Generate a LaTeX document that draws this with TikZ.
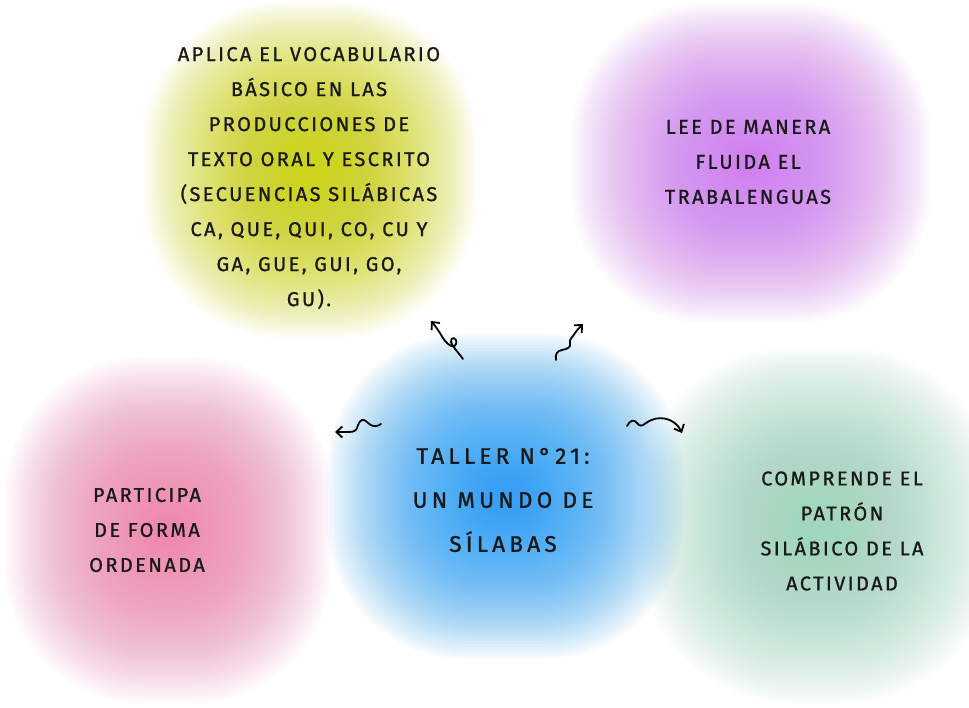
\documentclass[tikz,border=0pt]{standalone}
\usepackage{fontspec}
\setmainfont{Fira Sans}
\newfontfamily\fsmall{Fira Sans}[LetterSpace=12,FakeBold=1]
\newfontfamily\fbig{Fira Sans}[LetterSpace=19,FakeBold=1.2]
\definecolor{cblue}{RGB}{40,160,245}
\definecolor{cyellow}{RGB}{205,212,10}
\definecolor{cpurple}{RGB}{210,125,240}
\definecolor{cpink}{RGB}{238,135,178}
\definecolor{cgreen}{RGB}{160,215,190}
\newcommand\softblob[5]{%
  \foreach \k in {1,...,64}{%
    \pgfmathsetmacro\rx{#4*(\k/64)^1.2}%
    \pgfmathsetmacro\ry{#5*(\k/64)^1.2}%
    \pgfmathsetmacro\rc{0.85*min(\rx,\ry)}%
    \fill[#1, opacity=0.034, rounded corners=\rc pt] (#2-\rx,#3-\ry) rectangle (#2+\rx,#3+\ry);
  }}
\tikzset{
  label/.style={align=center, font=\fsmall\fontsize{20}{35}\selectfont, text=black!90},
  biglabel/.style={align=center, font=\fbig\fontsize{22.5}{44}\selectfont, text=black!90},
  squig/.style={draw=black, line width=1.8pt, line cap=round, line join=round, -{Straight Barb[length=6pt,width=11pt]}}
}
\usetikzlibrary{arrows.meta}
\begin{document}
\begin{tikzpicture}[x=1pt,y=-1pt]
\useasboundingbox (0,0) rectangle (969,707);
\fill[white] (0,0) rectangle (969,707);
% blobs
\softblob{cyellow}{310}{170}{166}{168}
\softblob{cpurple}{751}{163}{180}{160}
\softblob{cpink}{168}{530}{163}{173}
\softblob{cgreen}{818}{525}{178}{178}
\softblob{cblue}{505}{496}{178}{163}
% texts
\node[label] (vocab) at (309,178) {APLICA EL VOCABULARIO\\BÁSICO EN LAS\\PRODUCCIONES DE\\TEXTO ORAL Y ESCRITO\\(SECUENCIAS SILÁBICAS\\CA, QUE, QUI, CO, CU Y\\GA, GUE, GUI, GO,\\GU).};
\node[label] (lee) at (748,162) {LEE DE MANERA\\FLUIDA EL\\TRABALENGUAS};
\node[label] (part) at (147,530) {PARTICIPA\\DE FORMA\\ORDENADA};
\node[label] (comp) at (842,531) {COMPRENDE EL\\PATRÓN\\SILÁBICO DE LA\\ACTIVIDAD};
\node[biglabel] (taller) at (503,500) {TALLER N°21:\\UN MUNDO DE\\SÍLABAS};
% arrow endpoints
\coordinate (a1s) at (463,359);
\coordinate (a1e) at (431,321);
\coordinate (a2s) at (556,360);
\coordinate (a2e) at (583,324);
\coordinate (a3s) at (381,424);
\coordinate (a3e) at (335,432);
\coordinate (a4s) at (627,426);
\coordinate (a4e) at (682,433);
% squiggly arrows
\draw[squig] (a1s) .. controls (458,352) and (452,346) .. (451,342)
  .. controls (450,336) and (458,337) .. (456,344)
  .. controls (455,349) and (448,346) .. (443,338)
  .. controls (440,333) and (437,328) .. (a1e);
\draw[squig] (a2s) .. controls (555,354) and (557,351) .. (562,350)
  .. controls (568,349) and (571,347) .. (570,343)
  .. controls (569,339) and (573,337) .. (575,333)
  .. controls (577,330) and (580,327) .. (a2e);
\draw[squig] (a3s) .. controls (375,428) and (371,426) .. (367,422)
  .. controls (363,418) and (360,420) .. (358,425)
  .. controls (357,430) and (355,432) .. (349,432)
  -- (a3e);
\draw[squig] (a4s) .. controls (630,420) and (634,419) .. (637,423)
  .. controls (640,427) and (642,426) .. (646,423)
  .. controls (658,414) and (675,418) .. (a4e);
\end{tikzpicture}
\end{document}
